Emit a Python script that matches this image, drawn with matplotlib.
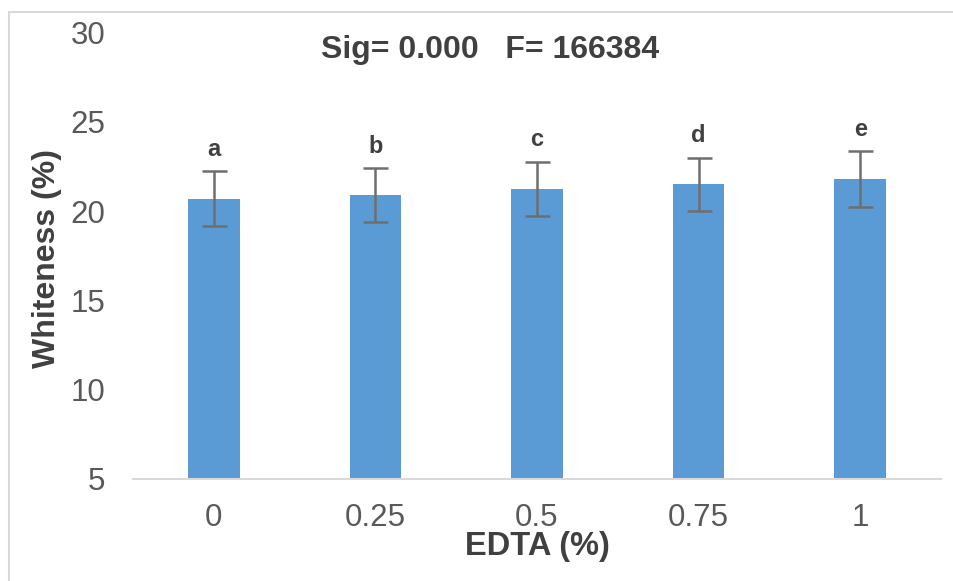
import matplotlib
matplotlib.use("Agg")
import matplotlib.pyplot as plt
from matplotlib.patches import Rectangle
import numpy as np

plt.rcParams['font.family'] = ['Liberation Sans', 'DejaVu Sans']

categories = ["0", "0.25", "0.5", "0.75", "1"]
whiteness = [20.7, 20.9, 21.25, 21.5, 21.8]
errors = [1.55, 1.5, 1.52, 1.5, 1.57]
letters = ["a", "b", "c", "d", "e"]
title_text = "Sig= 0.000   F= 166384"

W, H = 954, 581
fig = plt.figure(figsize=(W / 100, H / 100), dpi=100)
ax = fig.add_axes([133 / W, 102 / H, (941 - 133) / W, 446.4 / H])

x = np.arange(len(categories))
ax.bar(x, whiteness, width=0.32, bottom=0, color="#5B9BD5", zorder=2)
ax.errorbar(x, whiteness, yerr=errors, fmt="none", ecolor="#6E6E6E",
            elinewidth=1.8, capsize=9, capthick=1.8, zorder=3)

for xi, v, e, lab in zip(x, whiteness, errors, letters):
    ax.annotate(lab, xy=(xi, v + e), xytext=(0, 11), textcoords="offset points",
                ha="center", va="baseline", fontsize=17, fontweight="bold",
                color="#404040")

ax.set_xlim(-0.5, len(categories) - 0.5)
ax.set_ylim(5, 30)
ax.set_yticks([5, 10, 15, 20, 25, 30])
ax.set_xticks(x)
ax.set_xticklabels(categories)

for s in ["top", "right", "left"]:
    ax.spines[s].set_visible(False)
ax.spines["bottom"].set_color("#D9D9D9")
ax.spines["bottom"].set_linewidth(1.5)

ax.tick_params(axis="both", length=0, labelsize=22.5, labelcolor="#595959")
ax.tick_params(axis="x", pad=17)
ax.tick_params(axis="y", pad=20)

ax.set_xlabel("EDTA (%)", fontsize=23.5, fontweight="bold", color="#404040")
ax.xaxis.set_label_coords(0.5, (581 - 555 - 102) / 446.4)
ax.xaxis.label.set_va("baseline")
ax.set_ylabel("Whiteness (%)", fontsize=23, fontweight="bold", color="#404040")
ax.yaxis.set_label_coords((47 - 133) / 808, 0.495)
ax.yaxis.label.set_va("center")
ax.yaxis.label.set_ha("center")

fig.text(490 / W, (H - 58.3) / H, title_text, ha="center", va="baseline",
         fontsize=23, fontweight="bold", color="#404040")

# chart-area frame
fig.patches.append(Rectangle((9.5 / W, -0.1), 1.2, (H - 11.5) / H + 0.1,
                             transform=fig.transFigure, fill=False,
                             edgecolor="#D9D9D9", linewidth=1.5))

fig.savefig("out.png", dpi=100)
